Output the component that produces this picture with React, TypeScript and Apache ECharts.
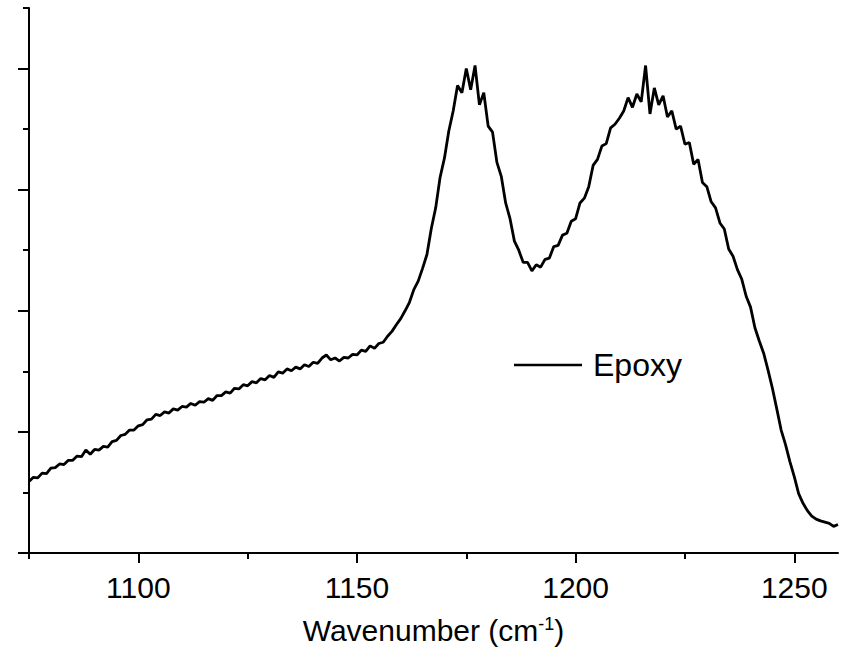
import React, { useEffect, useRef } from "react";
import * as echarts from "echarts";

// Sampling grid: one point per cm-1 starting at 1075
const START_WN = 1075;
const STEP_WN = 1;

// Intensity (arbitrary units, 0..9), 1075-1159 cm-1
const baseline: number[] = [
  1.18, 1.25, 1.24, 1.32, 1.31, 1.4, 1.41, 1.47, 1.46, 1.53,
  1.53, 1.6, 1.59, 1.7, 1.63, 1.71, 1.7, 1.76, 1.75, 1.84,
  1.86, 1.94, 1.96, 2.03, 2.03, 2.1, 2.12, 2.2, 2.21, 2.29,
  2.27, 2.33, 2.31, 2.38, 2.36, 2.42, 2.41, 2.47, 2.44, 2.5,
  2.49, 2.55, 2.52, 2.6, 2.6, 2.66, 2.64, 2.72, 2.71, 2.78,
  2.76, 2.83, 2.81, 2.88, 2.86, 2.93, 2.9, 2.99, 2.97, 3.04,
  3.01, 3.07, 3.04, 3.11, 3.08, 3.15, 3.13, 3.22, 3.27, 3.19,
  3.22, 3.17, 3.23, 3.22, 3.28, 3.27, 3.35, 3.33, 3.42, 3.38,
  3.46, 3.48, 3.58, 3.66, 3.77,
];

// 1160-1189 cm-1 (first band)
const band1: number[] = [
  3.87, 4.0, 4.14, 4.35, 4.49, 4.7, 4.93, 5.36, 5.7, 6.2,
  6.52, 6.97, 7.3, 7.72, 7.6, 8.0, 7.65, 8.05, 7.4, 7.6,
  7.05, 6.95, 6.45, 6.22, 5.78, 5.52, 5.15, 5.0, 4.8, 4.8,
];

// 1190-1260 cm-1 (second band and tail)
const band2: number[] = [
  4.66, 4.76, 4.72, 4.85, 4.87, 5.06, 5.08, 5.25, 5.28, 5.48,
  5.52, 5.78, 5.86, 6.05, 6.4, 6.5, 6.72, 6.76, 7.02, 7.08,
  7.18, 7.3, 7.52, 7.36, 7.58, 7.45, 8.05, 7.25, 7.68, 7.4,
  7.55, 7.2, 7.3, 7.0, 7.05, 6.75, 6.78, 6.42, 6.5, 6.12,
  6.05, 5.8, 5.7, 5.45, 5.35, 5.02, 4.9, 4.68, 4.52, 4.24,
  4.06, 3.72, 3.5, 3.3, 3.02, 2.72, 2.38, 2.03, 1.79, 1.51,
  1.26, 0.98, 0.82, 0.7, 0.61, 0.56, 0.53, 0.51, 0.49, 0.44,
  0.47,
];

const intensity: number[] = [...baseline, ...band1, ...band2];

const X_MIN = 1075;
const X_MAX = 1260;
const X_MAJOR = [1100, 1150, 1200, 1250];
const X_MINOR = [1075, 1125, 1175, 1225];
const Y_MIN = 0;
const Y_MAX = 9;
const Y_MAJOR = [0, 2, 4, 6, 8];
const Y_MINOR = [1, 3, 5, 7, 9];

const SERIES_NAME = "Epoxy";

const FONT = "'Liberation Sans', Arial, Helvetica, sans-serif";

export default function App() {
  const ref = useRef<HTMLDivElement>(null);

  useEffect(() => {
    if (!ref.current) return;
    const chart = echarts.init(ref.current, undefined, { renderer: "svg" });
    const data = intensity.map((v, i) => [START_WN + i * STEP_WN, v]);
    const axisLine = { show: true, lineStyle: { color: "#000", width: 2 } };

    chart.setOption({
      animation: false,
      backgroundColor: "#fff",
      grid: { left: 29, right: 10, top: 8, bottom: 93, containLabel: false },
      legend: {
        left: 514,
        top: 349,
        padding: 0,
        itemWidth: 68,
        itemHeight: 32,
        icon: "path://M0,14.75 L68,14.75 L68,17.25 L0,17.25 Z",
        data: [SERIES_NAME],
        textStyle: {
          fontSize: 32,
          fontFamily: FONT,
          color: "#000",
          padding: [0, 0, 0, 6],
        },
      },
      xAxis: [
        {
          type: "value",
          min: X_MIN,
          max: X_MAX,
          interval: 25,
          name: "Wavenumber (cm{sup|-1})",
          nameLocation: "middle",
          nameGap: 62,
          nameTextStyle: {
            fontSize: 30,
            fontFamily: FONT,
            color: "#000",
            lineHeight: 30,
            rich: {
              sup: {
                fontSize: 18,
                fontFamily: FONT,
                color: "#000",
                lineHeight: 18,
                verticalAlign: "top",
              },
            },
          },
          axisLine,
          axisTick: {
            show: true,
            length: 10,
            customValues: X_MAJOR,
            lineStyle: { color: "#000", width: 2 },
          },
          axisLabel: {
            show: true,
            customValues: X_MAJOR,
            margin: 19,
            fontSize: 30,
            fontFamily: FONT,
            color: "#000",
            formatter: (v: number) => String(v),
          },
          splitLine: { show: false },
        },
        {
          type: "value",
          min: X_MIN,
          max: X_MAX,
          interval: 25,
          position: "bottom",
          axisLine: { show: false },
          axisTick: {
            show: true,
            length: 6,
            customValues: X_MINOR,
            lineStyle: { color: "#000", width: 2 },
          },
          axisLabel: { show: false },
          splitLine: { show: false },
        },
      ],
      yAxis: [
        {
          type: "value",
          min: Y_MIN,
          max: Y_MAX,
          interval: 1,
          position: "left",
          axisLine,
          axisTick: {
            show: true,
            length: 11,
            customValues: Y_MAJOR,
            lineStyle: { color: "#000", width: 2 },
          },
          axisLabel: { show: false },
          splitLine: { show: false },
        },
        {
          type: "value",
          min: Y_MIN,
          max: Y_MAX,
          interval: 1,
          position: "left",
          offset: 0,
          axisLine: { show: false },
          axisTick: {
            show: true,
            length: 6,
            customValues: Y_MINOR,
            lineStyle: { color: "#000", width: 2 },
          },
          axisLabel: { show: false },
          splitLine: { show: false },
        },
      ],
      series: [
        {
          name: SERIES_NAME,
          type: "line",
          xAxisIndex: 0,
          yAxisIndex: 0,
          data,
          showSymbol: false,
          symbol: "none",
          lineStyle: { color: "#000", width: 2.8 },
          itemStyle: { color: "#000" },
        },
      ],
    });

    return () => chart.dispose();
  }, []);

  return (
    <div
      ref={ref}
      style={{ position: "fixed", left: 0, top: 0, width: 848, height: 650, background: "#fff" }}
    />
  );
}
